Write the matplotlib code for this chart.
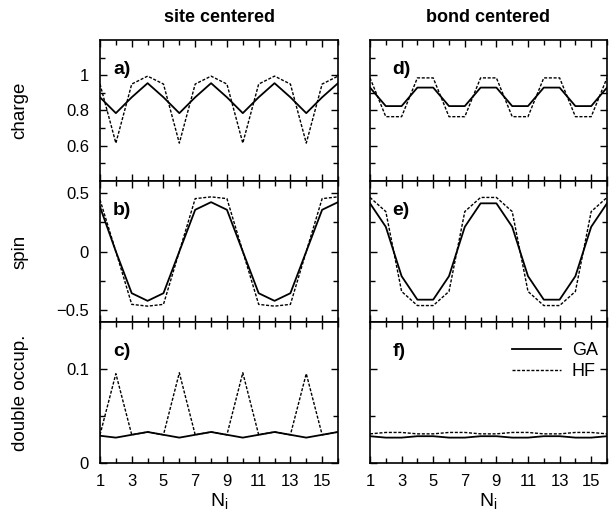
import matplotlib
matplotlib.use("Agg")
import matplotlib.pyplot as plt

plt.rcParams['font.family'] = ['Liberation Sans', 'DejaVu Sans']

x = list(range(1, 17))

# charge
charge_site_ga = [0.875, 0.785, 0.875, 0.955, 0.875, 0.785, 0.875, 0.955,
                  0.875, 0.785, 0.875, 0.955, 0.875, 0.785, 0.875, 0.955]
charge_site_hf = [0.95, 0.615, 0.95, 0.995, 0.95, 0.615, 0.95, 0.995,
                  0.95, 0.615, 0.95, 0.995, 0.95, 0.615, 0.95, 0.995]
charge_bond_ga = [0.93, 0.825, 0.825, 0.93, 0.93, 0.825, 0.825, 0.93,
                  0.93, 0.825, 0.825, 0.93, 0.93, 0.825, 0.825, 0.93]
charge_bond_hf = [0.985, 0.765, 0.765, 0.985, 0.985, 0.765, 0.765, 0.985,
                  0.985, 0.765, 0.765, 0.985, 0.985, 0.765, 0.765, 0.985]

# spin
spin_site_ga = [0.38, 0.0, -0.355, -0.42, -0.355, 0.0, 0.355, 0.42,
                0.355, 0.0, -0.355, -0.42, -0.355, 0.0, 0.355, 0.42]
spin_site_hf = [0.44, 0.0, -0.45, -0.465, -0.45, 0.0, 0.45, 0.465,
                0.45, 0.0, -0.45, -0.465, -0.45, 0.0, 0.45, 0.465]
spin_bond_ga = [0.41, 0.21, -0.21, -0.41, -0.41, -0.21, 0.21, 0.41,
                0.41, 0.21, -0.21, -0.41, -0.41, -0.21, 0.21, 0.41]
spin_bond_hf = [0.46, 0.34, -0.34, -0.46, -0.46, -0.34, 0.34, 0.46,
                0.46, 0.34, -0.34, -0.46, -0.46, -0.34, 0.34, 0.46]

# double occupancy
docc_site_ga = [0.029, 0.027, 0.030, 0.033, 0.030, 0.027, 0.030, 0.033,
                0.030, 0.027, 0.030, 0.033, 0.030, 0.027, 0.030, 0.033]
docc_site_hf = [0.030, 0.095, 0.030, 0.033, 0.030, 0.096, 0.030, 0.033,
                0.030, 0.096, 0.030, 0.033, 0.030, 0.095, 0.030, 0.033]
docc_bond_ga = [0.0285, 0.027, 0.027, 0.0285, 0.0285, 0.027, 0.027, 0.0285,
                0.0285, 0.027, 0.027, 0.0285, 0.0285, 0.027, 0.027, 0.0285]
docc_bond_hf = [0.031, 0.0325, 0.0325, 0.031, 0.031, 0.0325, 0.0325, 0.031,
                0.031, 0.0325, 0.0325, 0.031, 0.031, 0.0325, 0.0325, 0.031]

col_titles = ["site centered", "bond centered"]
row_labels = ["charge", "spin", "double occup."]
panel_labels = [["a)", "d)"], ["b)", "e)"], ["c)", "f)"]]
x_ticks = [1, 3, 5, 7, 9, 11, 13, 15]
series_names = ["GA", "HF"]

data = [
    [(charge_site_ga, charge_site_hf), (charge_bond_ga, charge_bond_hf)],
    [(spin_site_ga, spin_site_hf), (spin_bond_ga, spin_bond_hf)],
    [(docc_site_ga, docc_site_hf), (docc_bond_ga, docc_bond_hf)],
]

ylims = [(0.4, 1.2), (-0.6, 0.6), (0.0, 0.15)]
ymajor = [[0.6, 0.8, 1.0], [-0.5, 0.0, 0.5], [0.0, 0.1]]
ymajor_lbl = [["0.6", "0.8", "1"], ["\u22120.5", "0", "0.5"], ["0", "0.1"]]
yminor = [[0.5, 0.7, 0.9, 1.1], [-0.25, 0.25], [0.05]]

W, H = 609, 515
fig = plt.figure(figsize=(W / 100, H / 100), dpi=100)
col_px = [(100, 338), (370, 607)]
row_px = [(40, 181), (181, 322), (322, 463)]

for r in range(3):
    for c in range(2):
        x0, x1 = col_px[c]
        t, b = row_px[r]
        ax = fig.add_axes([x0 / W, 1 - b / H, (x1 - x0) / W, (b - t) / H])
        ga, hf = data[r][c]
        ax.plot(x, ga, color='black', lw=1.3, label=series_names[0])
        ax.plot(x, hf, color='black', lw=1.0, linestyle=(0, (2.2, 1.2)),
                label=series_names[1])
        ax.set_xlim(1, 16)
        ax.set_ylim(*ylims[r])
        ax.set_xticks(x_ticks)
        ax.set_xticks([2, 4, 6, 8, 10, 12, 14, 16], minor=True)
        ax.set_yticks(ymajor[r])
        ax.set_yticks(yminor[r], minor=True)
        ax.tick_params(which='both', direction='in', top=True, right=True,
                       labelsize=12, width=1.0, pad=8)
        ax.tick_params(which='major', length=5)
        ax.tick_params(which='minor', length=3.5)
        for s in ax.spines.values():
            s.set_linewidth(1.2)
        if c == 0:
            ax.set_yticklabels(ymajor_lbl[r])
            ax.set_ylabel(row_labels[r], fontsize=13.5)
            ax.yaxis.set_label_coords(-0.30, 0.5)
        else:
            ax.set_yticklabels([])
        if r == 2:
            ax.set_xticklabels([str(v) for v in x_ticks])
            ax.set_xlabel("N$_\\mathregular{i}$", fontsize=14, labelpad=2)
        else:
            ax.set_xticklabels([])
        if r == 0:
            ax.set_title(col_titles[c], fontsize=13, fontweight='bold', pad=13)
        lx = 0.055 if c == 0 else 0.095
        ax.text(lx, 0.79, panel_labels[r][c], transform=ax.transAxes,
                fontsize=14, fontweight='bold', va='center', ha='left')
        if r == 2 and c == 1:
            ax.legend(loc='upper left', frameon=False, fontsize=13,
                      handlelength=2.7, handletextpad=0.6, labelspacing=0.25,
                      borderaxespad=0, bbox_to_anchor=(0.57, 0.91))

fig.savefig("out.png", dpi=100)
